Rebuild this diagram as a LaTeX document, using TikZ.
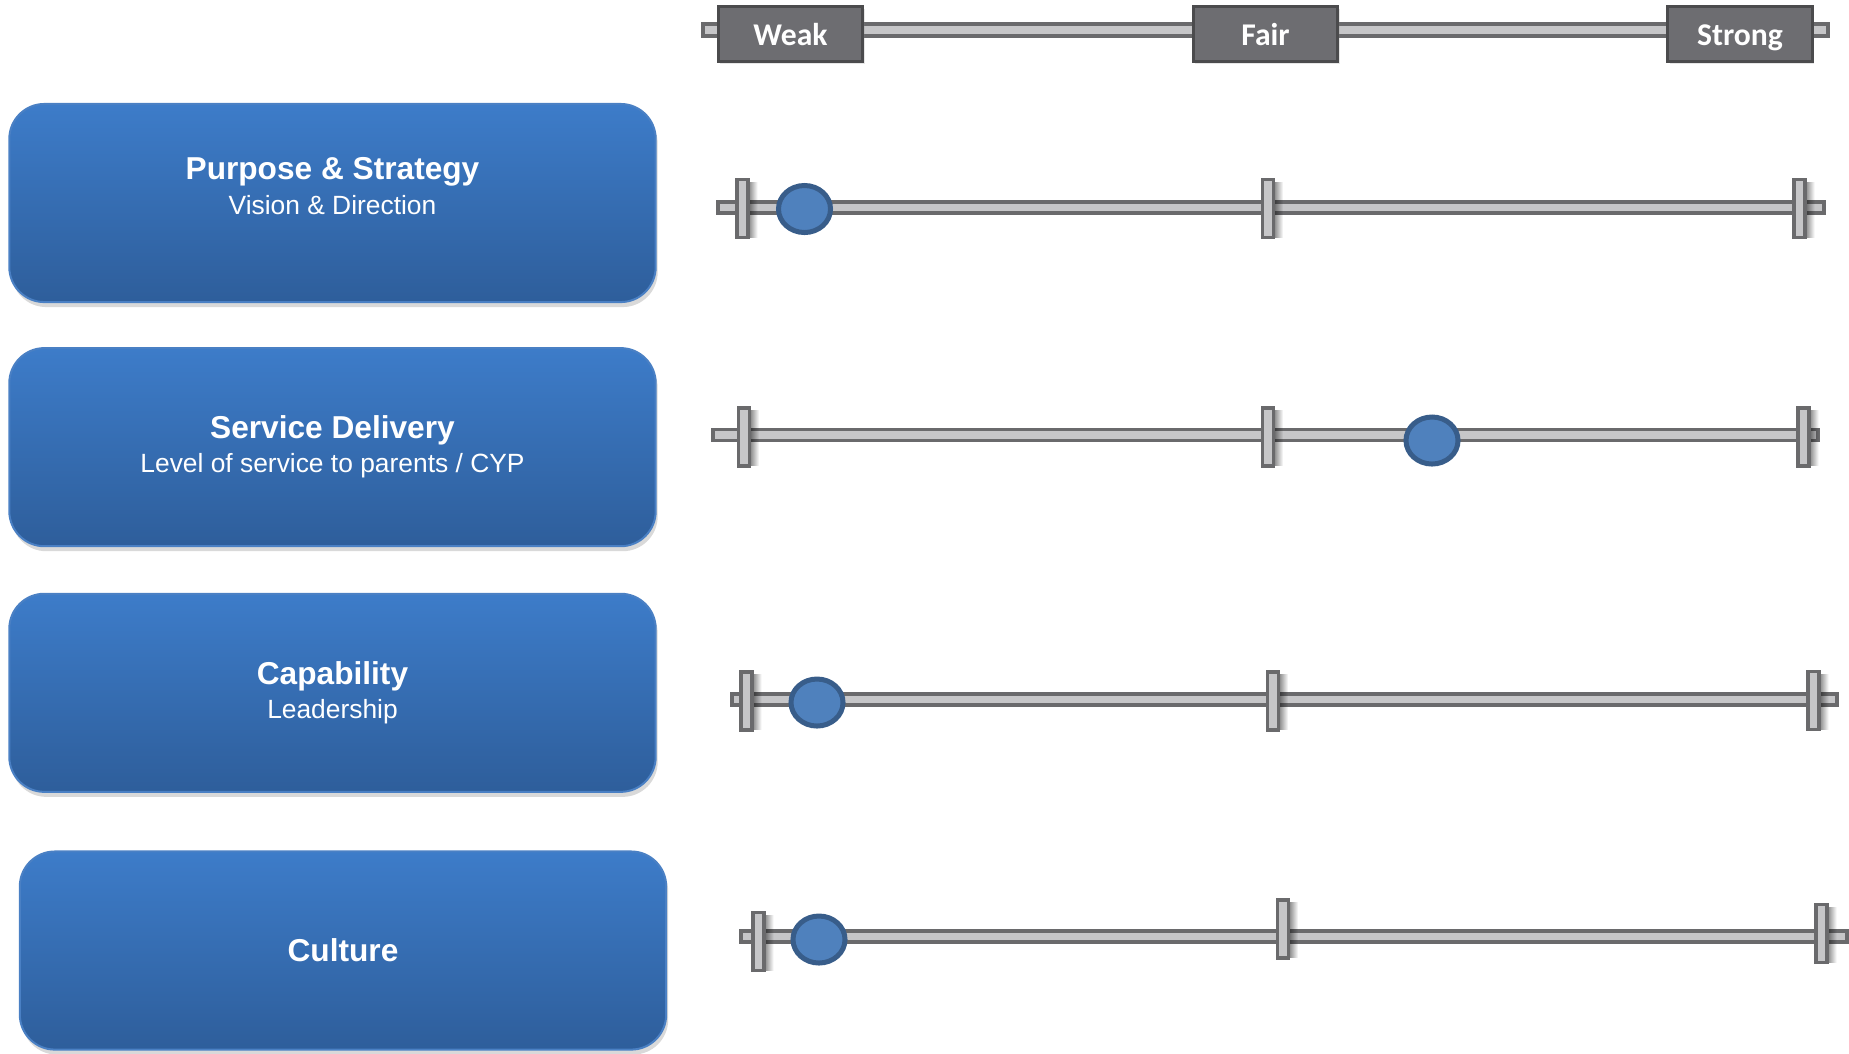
\documentclass[tikz,border=0pt]{standalone}
\usepackage{fontspec}
\setmainfont{Liberation Sans}
\newfontfamily\calfont{Carlito}
\usetikzlibrary{positioning,shadows,fadings,shapes.geometric}
\definecolor{boxtop}{HTML}{3D7CC9}
\definecolor{boxbot}{HTML}{2E5E9B}
\definecolor{boxline}{HTML}{4A80C4}
\definecolor{trackfill}{HTML}{C6C6C8}
\definecolor{trackline}{HTML}{6A6A6C}
\definecolor{tagfill}{HTML}{6D6D71}
\definecolor{tagline}{HTML}{4B4B4D}
\definecolor{knobfill}{HTML}{4F81BD}
\definecolor{knobline}{HTML}{385D8A}
\newcommand\boxhead[1]{{\fontsize{9}{9.7}\selectfont\bfseries #1}}

\begin{document}
\begin{tikzpicture}[x=0.01cm,y=-0.01cm,
  topic/.style={draw=boxline,line width=0.02cm,rounded corners=0.35cm,top color=boxtop,bottom color=boxbot,minimum width=6.46cm,minimum height=1.98cm,align=center,text=white,font=\fontsize{7.5}{9.7}\selectfont,drop shadow={opacity=0.3,shadow xshift=0.02cm,shadow yshift=-0.05cm}},
  rating/.style={draw=tagline,line width=0.03cm,fill=tagfill,minimum width=1.44cm,minimum height=0.55cm,text height=0.7em,text depth=0.06em,text=white,font=\calfont\bfseries\fontsize{9}{10}\selectfont,drop shadow={opacity=0.2,shadow xshift=0.02cm,shadow yshift=-0.02cm}},
  track/.style={draw=trackline,line width=0.035cm,fill=trackfill},
  notch/.style={draw=trackline,line width=0.035cm,fill=trackfill,minimum width=0.11cm,minimum height=0.58cm,inner sep=0pt},
  notchshade/.style={fill=black,opacity=0.5,path fading=east},
  knob/.style={ellipse,draw=knobline,line width=0.05cm,fill=knobfill,minimum width=0.52cm,minimum height=0.47cm,inner sep=0pt}]
  \useasboundingbox (0,0) rectangle (1849,1053);
  \draw[track] (703,24) rectangle (1828,36);
  \node[rating] (weak) at (790.5,34) {Weak};
  \node[rating] (fair) at (1265.5,34) {Fair};
  \node[rating] (strong) at (1740,34) {Strong};
  \node[topic] (ps) at (332.5,203) {\boxhead{Purpose \& Strategy}\\Vision \& Direction\\\mbox{}};
  \node[topic] (sd) [below=0.44cm of ps] {\boxhead{Service Delivery}\\Level of service to parents / CYP};
  \node[topic] (cap) [below=0.455cm of sd] {\boxhead{Capability}\\Leadership};
  \node[topic] (cul) at (343,950.5) {\boxhead{Culture}};
  \foreach \r/\y/\xa/\xb/\ta/\tb/\tc/\ya/\yb/\yc/\m/\my in {
    1/207.5/718/1824/742.5/1268/1799.5/208.5/208.5/208.5/804.5/209,
    2/435/713/1818/744/1268/1803.5/437/437/437/1432/440.5,
    3/699.5/732/1837/746.5/1273/1813.5/701/701/700.5/817/702.5,
    4/936.5/741/1847/758.5/1283/1821.5/941.5/929/933.5/819/939.5} {
    \draw[track] (\xa,\y-5.5) rectangle (\xb,\y+5.5);
    \foreach \tx/\ty [count=\k] in {\ta/\ya,\tb/\yb,\tc/\yc} {
      \fill[notchshade] (\tx+5.5,\ty-27) rectangle (\tx+15,\ty+29);
      \node[notch] (n\r\k) at (\tx,\ty) {};
    }
    \node[knob] (k\r) at (\m,\my) {};
  }
\end{tikzpicture}
\end{document}
